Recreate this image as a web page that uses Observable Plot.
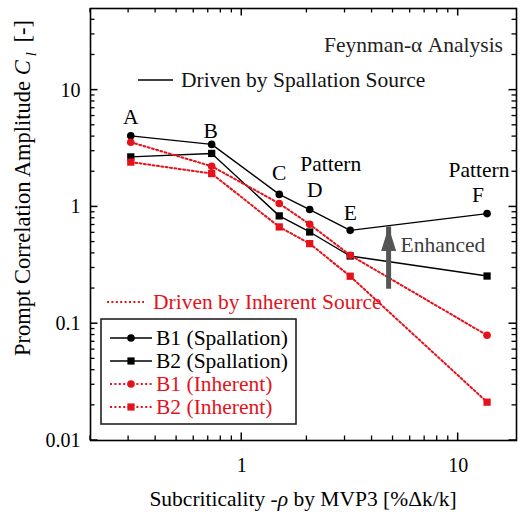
<!DOCTYPE html>
<html>
<head>
<meta charset="utf-8">
<script src="https://cdn.jsdelivr.net/npm/d3@7"></script>
<script src="https://cdn.jsdelivr.net/npm/@observablehq/plot@0.6"></script>
<style>
  html, body { margin: 0; padding: 0; background: #fff; }
  #chart svg { display: block; }
</style>
</head>
<body>
<div id="chart"></div>
<script>
// ---- data ----
const points = ["A", "B", "C", "D", "E", "F"];
const subcriticality = [0.307, 0.726, 1.49, 2.06, 3.17, 13.6];
const b1Spallation = [4.06, 3.43, 1.28, 0.95, 0.63, 0.877];
const b2Spallation = [2.68, 2.87, 0.838, 0.61, 0.38, 0.256];
const b1Inherent = [3.58, 2.23, 1.07, 0.71, 0.386, 0.0796];
const b2Inherent = [2.42, 1.93, 0.674, 0.485, 0.255, 0.0213];
const seriesNames = ["B1 (Spallation)", "B2 (Spallation)", "B1 (Inherent)", "B2 (Inherent)"];

const xMajorTicks = [1, 10];
const xMinorTicks = [0.2, 0.3, 0.4, 0.5, 0.6, 0.7, 0.8, 0.9, 2, 3, 4, 5, 6, 7, 8, 9];
const yMajorTicks = [0.01, 0.1, 1, 10];
const yMinorTicks = [0.02, 0.03, 0.04, 0.05, 0.06, 0.07, 0.08, 0.09,
                     0.2, 0.3, 0.4, 0.5, 0.6, 0.7, 0.8, 0.9,
                     2, 3, 4, 5, 6, 7, 8, 9, 20, 30, 40];

const arrowX = [4.77];
const arrowBase = [0.26];
const arrowTip = [0.674];

// ---- layout ----
const W = 522, H = 514, ML = 90, MR = 6, MT = 8, MB = 74;

// ---- build tables ----
const FONT = "'Liberation Serif', 'Times New Roman', Times, serif";
const RED = "#e5121b";
const toRows = (vals, name) => points.map((p, i) => ({point: p, x: subcriticality[i], y: vals[i], series: name}));
const s1 = toRows(b1Spallation, seriesNames[0]);
const s2 = toRows(b2Spallation, seriesNames[1]);
const s3 = toRows(b1Inherent, seriesNames[2]);
const s4 = toRows(b2Inherent, seriesNames[3]);
const arrowRows = arrowX.map((x, i) => ({x, base: arrowBase[i], tip: arrowTip[i]}));
const lbl = (p) => s1.filter(d => d.point === p);

const arrowHead = {
  draw(ctx) {
    ctx.moveTo(0, 0);
    ctx.lineTo(7.5, 24);
    ctx.lineTo(-7.5, 24);
    ctx.closePath();
  }
};

const annot = {fontSize: 21.5, fill: "black"};

const svg = Plot.plot({
  width: W,
  height: H,
  marginLeft: ML,
  marginRight: MR,
  marginTop: MT,
  marginBottom: MB,
  style: {fontFamily: FONT, fontSize: "20px", background: "white", color: "black"},
  x: {type: "log", domain: [0.2, 18.6]},
  y: {type: "log", domain: [0.01, 50]},
  marks: [
    // tick labels
    Plot.axisX({anchor: "bottom", ticks: xMajorTicks, tickSize: 0, tickPadding: 17, tickFormat: d => String(d), label: null, fontSize: 20}),
    Plot.axisY({anchor: "left", ticks: yMajorTicks, tickSize: 0, tickPadding: 10, tickFormat: d => String(d), label: null, fontSize: 20}),
    Plot.frame({stroke: "black", strokeWidth: 1.6}),

    // series lines
    Plot.line(s1, {x: "x", y: "y", stroke: "black", strokeWidth: 1.4}),
    Plot.line(s2, {x: "x", y: "y", stroke: "black", strokeWidth: 1.4}),
    Plot.dot(s1, {x: "x", y: "y", r: 3.8, symbol: "circle", fill: "black"}),
    Plot.dot(s2, {x: "x", y: "y", r: 4.1, symbol: "square", fill: "black"}),
    Plot.line(s3, {x: "x", y: "y", stroke: RED, strokeWidth: 2, strokeDasharray: "2,2.4"}),
    Plot.line(s4, {x: "x", y: "y", stroke: RED, strokeWidth: 2, strokeDasharray: "2,2.4"}),
    Plot.dot(s3, {x: "x", y: "y", r: 3.8, symbol: "circle", fill: RED}),
    Plot.dot(s4, {x: "x", y: "y", r: 4.1, symbol: "square", fill: RED}),

    // point annotations
    Plot.text(lbl("A"), {x: "x", y: "y", text: "point", dy: -19, ...annot}),
    Plot.text(lbl("B"), {x: "x", y: "y", text: "point", dx: -1, dy: -13, ...annot}),
    Plot.text(lbl("C"), {x: "x", y: "y", text: "point", dy: -21, ...annot}),
    Plot.text(lbl("D"), {x: "x", y: "y", text: "point", dx: 5, dy: -19, ...annot}),
    Plot.text(lbl("D"), {x: "x", y: "y", text: () => "Pattern", dx: 21, dy: -45, ...annot}),
    Plot.text(lbl("E"), {x: "x", y: "y", text: "point", dy: -17, ...annot}),
    Plot.text(lbl("F"), {x: "x", y: "y", text: () => "Pattern", dx: -8, dy: -43, ...annot}),
    Plot.text(lbl("F"), {x: "x", y: "y", text: "point", dx: -9, dy: -18, ...annot}),

    // enhanced arrow
    Plot.ruleX(arrowRows, {x: "x", y1: "base", y2: "tip", insetTop: 14, stroke: "#555", strokeWidth: 5}),
    Plot.dot(arrowRows, {x: "x", y: "tip", symbol: arrowHead, fill: "#555", r: 5}),
    Plot.text(arrowRows, {x: "x", y: "tip", text: () => "Enhanced", textAnchor: "start", dx: 12, dy: 18, fontSize: 21.5, fill: "#3c3c3c"})
  ]
});

document.getElementById("chart").appendChild(svg);

// ---- inward ticks on all four sides, placed with Plot's own scales ----
const sx = svg.scale("x"), sy = svg.scale("y");
const x0 = ML, x1 = W - MR, y0 = MT, y1 = H - MB;
const tg = d3.select(svg).append("g");
const addX = (ticks, len, sw) => ticks.forEach(t => {
  const px = sx.apply(t);
  tg.append("line").attr("x1", px).attr("x2", px).attr("y1", y1).attr("y2", y1 - len).attr("stroke", "black").attr("stroke-width", sw);
  tg.append("line").attr("x1", px).attr("x2", px).attr("y1", y0).attr("y2", y0 + len).attr("stroke", "black").attr("stroke-width", sw);
});
const addY = (ticks, len, sw) => ticks.forEach(t => {
  const py = sy.apply(t);
  tg.append("line").attr("y1", py).attr("y2", py).attr("x1", x0).attr("x2", x0 + len).attr("stroke", "black").attr("stroke-width", sw);
  tg.append("line").attr("y1", py).attr("y2", py).attr("x1", x1).attr("x2", x1 - len).attr("stroke", "black").attr("stroke-width", sw);
});
addX(xMajorTicks, 7.5, 1.5);
addX(xMinorTicks, 4.5, 1.3);
addY(yMajorTicks, 7.5, 1.5);
addY(yMinorTicks, 4.5, 1.3);

// ---- overlay: titles, axis labels, legend ----
const g = d3.select(svg).append("g").attr("font-family", FONT).attr("font-size", 21.5).attr("text-anchor", "start");

g.append("text").attr("x", 503).attr("y", 52).attr("text-anchor", "end").attr("fill", "#222")
  .text("Feynman-α Analysis");

g.append("line").attr("x1", 138).attr("x2", 173).attr("y1", 80).attr("y2", 80)
  .attr("stroke", "black").attr("stroke-width", 1.4);
g.append("text").attr("x", 181).attr("y", 87).attr("fill", "#111").text("Driven by Spallation Source");

g.append("line").attr("x1", 107).attr("x2", 144).attr("y1", 302).attr("y2", 302)
  .attr("stroke", RED).attr("stroke-width", 2).attr("stroke-dasharray", "2,2.4");
g.append("text").attr("x", 153).attr("y", 308.5).attr("fill", RED).text("Driven by Inherent Source");

// y axis label
const yl = g.append("text").attr("transform", "translate(30,188) rotate(-90)")
  .attr("text-anchor", "middle").attr("fill", "black").attr("font-size", 22.5);
yl.append("tspan").text("Prompt Correlation Amplitude ");
yl.append("tspan").attr("font-style", "italic").text("C");
yl.append("tspan").attr("font-style", "italic").attr("font-size", 15).attr("dx", 4).attr("dy", 6).text("l");
yl.append("tspan").attr("dy", -6).attr("dx", 4).text(" [-]");

// x axis label
const xl = g.append("text").attr("x", 303).attr("y", 506).attr("text-anchor", "middle").attr("fill", "black");
xl.append("tspan").text("Subcriticality -");
xl.append("tspan").attr("font-style", "italic").text("ρ");
xl.append("tspan").text(" by MVP3 [%Δk/k]");

// legend
const lg = g.append("g");
lg.append("rect").attr("x", 101).attr("y", 319).attr("width", 195).attr("height", 105)
  .attr("fill", "white").attr("stroke", "#222").attr("stroke-width", 1.6);
const legendStyles = [
  {color: "black", dash: null, width: 1.4, shape: "circle"},
  {color: "black", dash: null, width: 1.4, shape: "square"},
  {color: RED, dash: "2,2.4", width: 2, shape: "circle"},
  {color: RED, dash: "2,2.4", width: 2, shape: "square"}
];
seriesNames.forEach((name, i) => {
  const st = legendStyles[i];
  const y = 338 + i * 23;
  lg.append("line").attr("x1", 110).attr("x2", 152).attr("y1", y).attr("y2", y)
    .attr("stroke", st.color).attr("stroke-width", st.width).attr("stroke-dasharray", st.dash);
  if (st.shape === "circle") {
    lg.append("circle").attr("cx", 131).attr("cy", y).attr("r", 3.8).attr("fill", st.color);
  } else {
    lg.append("rect").attr("x", 131 - 3.6).attr("y", y - 3.6).attr("width", 7.2).attr("height", 7.2).attr("fill", st.color);
  }
  lg.append("text").attr("x", 156).attr("y", y + 7).attr("fill", st.color).text(name);
});
</script>
</body>
</html>
